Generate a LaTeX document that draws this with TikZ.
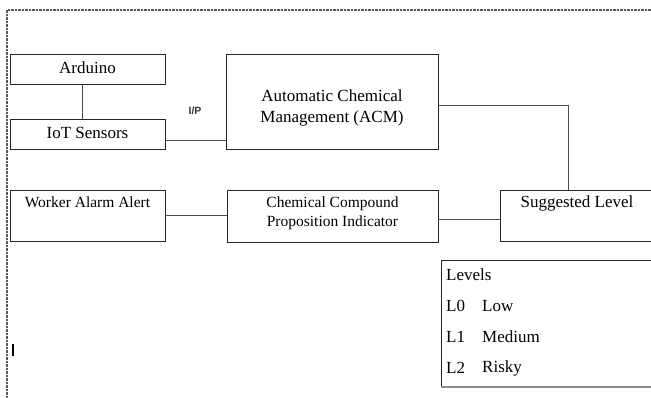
\documentclass[tikz,border=0pt]{standalone}
\usepackage{fontspec}
\setmainfont{Liberation Serif}
\newfontfamily\ipfont{Liberation Sans}
\begin{document}
\begin{tikzpicture}[x=1pt,y=-1pt,
  box/.style={draw=black!85,line width=0.9pt,rectangle,inner sep=0pt},
  conn/.style={draw=black!70,line width=0.9pt},
  txt/.style={inner sep=0pt,font=\fontsize{17}{21}\selectfont,align=center},
  smalltxt/.style={inner sep=0pt,font=\fontsize{15.5}{19}\selectfont,align=center}]
\useasboundingbox (0,0) rectangle (651,398);
\clip (0,0) rectangle (651,398);
% dashed frame
\draw[black!65,line width=1.1pt,dash pattern=on 2.5pt off 1pt] (7,398) -- (7,10) -- (660,10);
% boxes
\node[box,minimum width=155pt,minimum height=30pt] (ard) at (87.5,69) {};
\node[box,minimum width=155pt,minimum height=30pt] (iot) at (87.5,134) {};
\node[box,minimum width=212pt,minimum height=95pt] (acm) at (332,101.5) {};
\node[box,minimum width=155pt,minimum height=51pt] (wrk) at (87.5,215.5) {};
\node[box,minimum width=211pt,minimum height=52pt] (chem) at (332.5,216) {};
\node[box,minimum width=160pt,minimum height=51pt] (sug) at (580,215.5) {};
\draw[black!85,line width=0.9pt] (660,260) -- (441,260) -- (441,387);
\draw[black!45,line width=1.6pt] (441,387) -- (660,387);
% texts
\node[txt] (tard) at (87.5,68) {Arduino};
\node[txt] (tiot) at (87.5,133) {IoT Sensors};
\node[txt] (tacm) at (332,108) {Automatic Chemical\\Management (ACM)};
\node[smalltxt] (twrk) at (87.5,202) {Worker Alarm Alert};
\node[smalltxt] (tchem) at (332.5,213) {Chemical Compound\\Proposition Indicator};
\node[txt] (tsug) at (577,203) {Suggested Level};
\node[inner sep=0pt,font=\ipfont\bfseries\fontsize{10.5}{12}\selectfont,text=black!80] (ip) at (195,111) {I/P};
\node[txt,anchor=west] (lv) at (446,275) {Levels};
\node[txt,anchor=west] (l0) at (446,306) {L0};
\node[txt,anchor=west] (l1) at (446,337) {L1};
\node[txt,anchor=west] (l2) at (446,368) {L2};
\node[txt,anchor=west] (low) at (482,306) {Low};
\node[txt,anchor=west] (med) at (482,337) {Medium};
\node[txt,anchor=west] (risk) at (482,368) {Risky};
% connectors
\draw[conn] (ard.south -| 82,0) -- (iot.north -| 82,0);
\draw[conn] (iot.east |- 0,140) -- (acm.west |- 0,140);
\draw[conn] (acm.east |- 0,105) -| (sug.north -| 568,0);
\draw[conn] (wrk.east |- 0,215) -- (chem.west |- 0,215);
\draw[conn] (chem.east |- 0,219) -- (sug.west |- 0,219);
% cursor mark
\draw[black,line width=1.8pt] (13,344) -- (13,356);
\end{tikzpicture}
\end{document}
